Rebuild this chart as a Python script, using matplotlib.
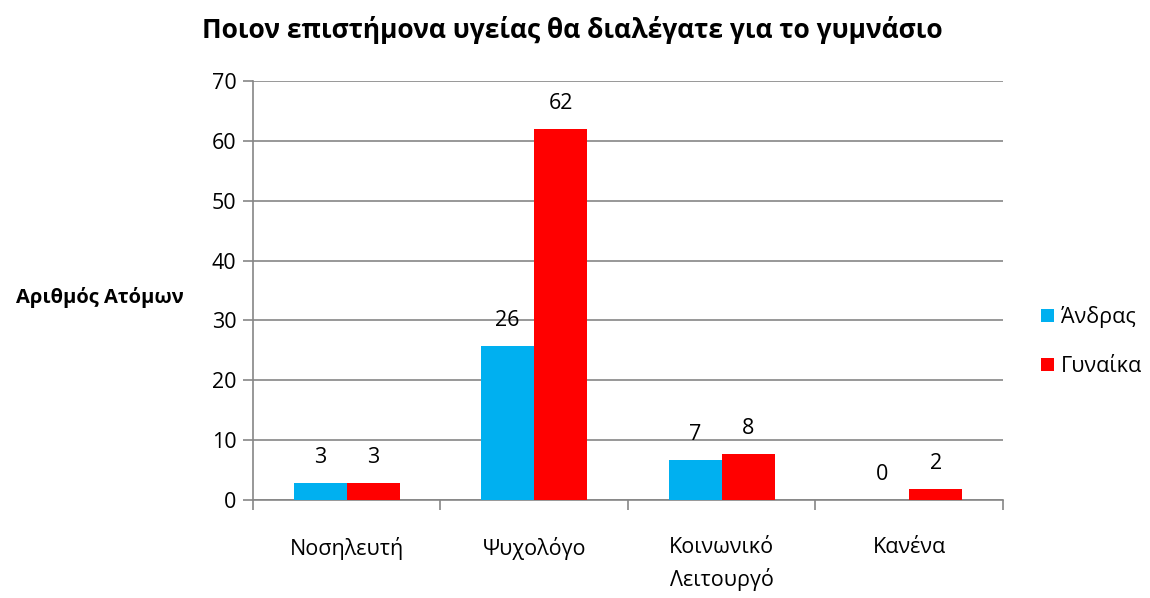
import matplotlib
matplotlib.use('Agg')
import matplotlib.pyplot as plt
import numpy as np

plt.rcParams['font.family'] = ['Open Sans', 'DejaVu Sans']

categories = ['Νοσηλευτή', 'Ψυχολόγο', 'Κοινωνικό\nΛειτουργό', 'Κανένα']
men = [2.8, 25.7, 6.7, 0]
women = [2.8, 62, 7.7, 1.8]
series_names = ['Άνδρας', 'Γυναίκα']
colors = ['#00b0f0', '#ff0000']
yticks = [0, 10, 20, 30, 40, 50, 60, 70]

def main():
    fig = plt.figure(figsize=(11.5, 5.98), dpi=100)
    ax = fig.add_axes([0.22, 0.164, 0.652, 0.7005])

    x = np.arange(len(categories))
    w = 0.283
    grey = '#868686'

    for i, vals in enumerate([men, women]):
        pos = x + (i - 0.5) * w
        ax.bar(pos, vals, width=w, color=colors[i], label=series_names[i], zorder=3)
        for p, v in zip(pos, vals):
            ax.annotate(f'{v:.0f}', (p, v), xytext=(0, 11), textcoords='offset points',
                        ha='center', va='bottom', fontsize=15.5)

    ax.set_xlim(-0.5, len(categories) - 0.5)
    ax.set_ylim(0, 70)
    ax.set_yticks(yticks)
    ax.yaxis.grid(True, color=grey, linewidth=1.2, zorder=0)
    ax.tick_params(axis='y', direction='out', length=7, color=grey, width=1.2, labelsize=15.5, pad=5)

    ax.set_xticks(x)
    ax.set_xticklabels(categories, fontsize=15.5, linespacing=1.55)
    ax.tick_params(axis='x', length=0, pad=27)
    ax.set_xticks(np.arange(-0.5, len(categories)), minor=True)
    ax.tick_params(axis='x', which='minor', direction='out', length=7, color=grey, width=1.2)

    for s in ['top', 'right']:
        ax.spines[s].set_visible(False)
    for s in ['left', 'bottom']:
        ax.spines[s].set_color(grey)
        ax.spines[s].set_linewidth(1.2)

    fig.text(0.498, 0.95, 'Ποιον επιστήμονα υγείας θα διαλέγατε για το γυμνάσιο',
             ha='center', va='center', fontsize=19, fontweight='bold')
    fig.text(0.087, 0.503, 'Αριθμός Ατόμων', ha='center', va='center',
             fontsize=14.5, fontweight='bold')

    ax.legend(loc='center left', bbox_to_anchor=(1.025, 0.378), frameon=False,
              fontsize=15.5, handlelength=0.6, handleheight=0.6, handletextpad=0.35,
              labelspacing=1.3)

    fig.savefig('out.png', dpi=100)

if __name__ == '__main__':
    main()
